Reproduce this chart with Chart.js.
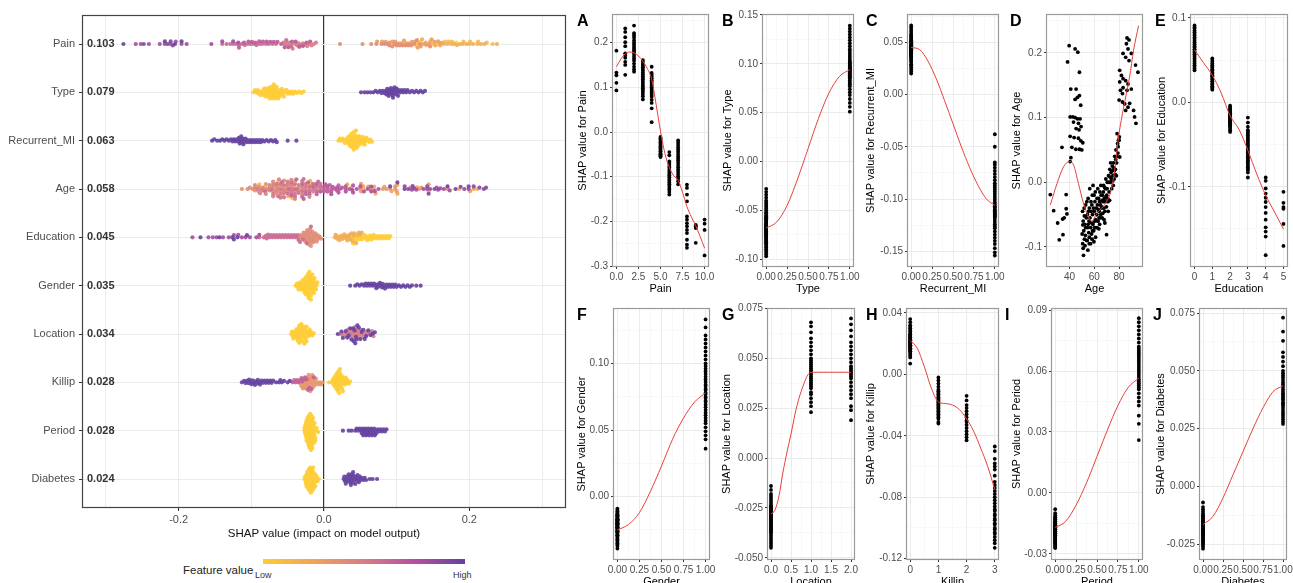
<!DOCTYPE html>
<html>
<head>
<meta charset="utf-8">
<title>SHAP summary and dependence plots</title>
<script src="https://cdn.jsdelivr.net/npm/chart.js@4.4.1/dist/chart.umd.min.js"></script>
<style>
  body { margin: 0; width: 1293px; height: 583px; overflow: hidden; background: #fff; position: relative; font-family: "Liberation Sans", Arial, sans-serif; }
  canvas { position: absolute; }
  .tag { position: absolute; font-size: 16px; line-height: 16px; font-weight: bold; color: #000; }
  .legend-title { position: absolute; left: 183px; top: 564px; font-size: 11.5px; line-height: 13px; color: #222; }
  .legend-bar { position: absolute; left: 263px; top: 559px; width: 202px; height: 5px; }
  .legend-end { position: absolute; top: 570px; font-size: 9px; line-height: 11px; color: #333; }
</style>
</head>
<body>
<div class="legend-title">Feature value</div>
<div class="legend-bar" id="legendBar"></div>
<div class="legend-end" style="left:255px">Low</div>
<div class="legend-end" style="left:453px">High</div>
<script>
// ---- data ----
const features = ['Pain', 'Type', 'Recurrent_MI', 'Age', 'Education', 'Gender', 'Location', 'Killip', 'Period', 'Diabetes'];
const meanAbs = ['0.103', '0.079', '0.063', '0.058', '0.045', '0.035', '0.034', '0.028', '0.028', '0.024'];

// SHAP values of Pain, one list per pain score 0..10
const painShap = [
  [0.182, 0.133, 0.127, 0.110, 0.093],
  [0.232, 0.224, 0.212, 0.201, 0.192, 0.176, 0.171, 0.166, 0.157, 0.150, 0.128],
  [0.238, 0.221, 0.216, 0.211, 0.205, 0.200, 0.196, 0.191, 0.187, 0.183, 0.179, 0.175, 0.170, 0.165, 0.160, 0.153, 0.146, 0.140, 0.135],
  [0.161, 0.157, 0.152, 0.148, 0.145, 0.141, 0.137, 0.133, 0.129, 0.125, 0.121, 0.118, 0.114, 0.110, 0.106, 0.102, 0.098, 0.094, 0.090, 0.085, 0.080, 0.073],
  [0.146, 0.132, 0.128, 0.124, 0.120, 0.116, 0.112, 0.108, 0.104, 0.100, 0.097, 0.094, 0.090, 0.087, 0.083, 0.079, 0.072, 0.065, 0.053, 0.022],
  [-0.011, -0.014, -0.017, -0.020, -0.023, -0.026, -0.029, -0.032, -0.035, -0.037, -0.040, -0.043, -0.045, -0.048, -0.050, -0.052, -0.054, -0.056],
  [-0.045, -0.052, -0.066, -0.071, -0.076, -0.080, -0.085, -0.089, -0.093, -0.097, -0.101, -0.105, -0.109, -0.113, -0.117, -0.121, -0.125, -0.129, -0.134, -0.140],
  [-0.019, -0.024, -0.029, -0.034, -0.039, -0.044, -0.049, -0.054, -0.059, -0.064, -0.069, -0.074, -0.079, -0.084, -0.089, -0.094, -0.099, -0.104, -0.110, -0.117],
  [-0.118, -0.125, -0.140, -0.155, -0.189, -0.196, -0.204, -0.211, -0.219, -0.226, -0.241, -0.252, -0.259],
  [-0.208, -0.211, -0.215, -0.248],
  [-0.196, -0.205, -0.219, -0.276]
];
const painCurveX = [0, 0.5, 1, 1.5, 2, 2.5, 3, 3.5, 4, 4.5, 5, 5.5, 6, 6.5, 7, 7.5, 8, 8.5, 9, 9.5, 10];
const painCurveY = [0.146, 0.163, 0.175, 0.179, 0.177, 0.170, 0.158, 0.142, 0.118, 0.062, 0.002, -0.048, -0.079, -0.098, -0.108, -0.135, -0.167, -0.190, -0.210, -0.234, -0.260];

const typeShap0 = [-0.097, -0.095, -0.093, -0.091, -0.090, -0.088, -0.087, -0.085, -0.084, -0.083, -0.082, -0.081, -0.080, -0.079, -0.078, -0.077, -0.076, -0.076, -0.075, -0.074, -0.074, -0.073, -0.072, -0.072, -0.071, -0.070, -0.070, -0.069, -0.069, -0.068, -0.068, -0.067, -0.066, -0.066, -0.065, -0.064, -0.064, -0.063, -0.062, -0.061, -0.060, -0.059, -0.058, -0.057, -0.056, -0.055, -0.053, -0.052, -0.050, -0.048, -0.046, -0.044, -0.042, -0.040, -0.037, -0.034, -0.031, -0.028];
const typeShap1 = [0.051, 0.056, 0.060, 0.064, 0.068, 0.071, 0.074, 0.077, 0.079, 0.081, 0.083, 0.085, 0.086, 0.087, 0.088, 0.089, 0.090, 0.091, 0.092, 0.093, 0.094, 0.095, 0.095, 0.096, 0.097, 0.098, 0.099, 0.100, 0.101, 0.102, 0.103, 0.105, 0.107, 0.109, 0.111, 0.113, 0.115, 0.118, 0.121, 0.124, 0.127, 0.130, 0.133, 0.136, 0.139];
const typeCurveX = [0, 0.125, 0.25, 0.375, 0.5, 0.625, 0.75, 0.875, 1];
const typeCurveY = [-0.068, -0.062, -0.045, -0.018, 0.013, 0.044, 0.070, 0.087, 0.094];

const recShap0 = [0.020, 0.022, 0.024, 0.026, 0.028, 0.029, 0.031, 0.032, 0.033, 0.034, 0.035, 0.036, 0.036, 0.037, 0.038, 0.038, 0.039, 0.039, 0.040, 0.040, 0.041, 0.041, 0.042, 0.042, 0.043, 0.043, 0.044, 0.044, 0.045, 0.045, 0.046, 0.047, 0.047, 0.048, 0.049, 0.050, 0.051, 0.052, 0.053, 0.054, 0.055, 0.056, 0.057, 0.058, 0.060, 0.062, 0.064, 0.066];
const recShap1 = [-0.154, -0.151, -0.147, -0.143, -0.140, -0.137, -0.134, -0.131, -0.128, -0.126, -0.124, -0.122, -0.120, -0.118, -0.117, -0.116, -0.115, -0.114, -0.113, -0.112, -0.111, -0.110, -0.108, -0.107, -0.105, -0.103, -0.101, -0.099, -0.097, -0.095, -0.093, -0.091, -0.089, -0.087, -0.085, -0.082, -0.079, -0.076, -0.073, -0.070, -0.067, -0.065, -0.050, -0.038];
const recCurveX = [0, 0.1, 0.2, 0.3, 0.4, 0.5, 0.6, 0.7, 0.8, 0.9, 1];
const recCurveY = [0.045, 0.043, 0.032, 0.015, -0.006, -0.028, -0.050, -0.070, -0.087, -0.100, -0.106];

// [age, SHAP value for age]
const agePairs = [
  [39.7, 0.211], [38.4, 0.186], [44.5, 0.206], [46.7, 0.201], [48.0, 0.170], [41.0, 0.144], [45.3, 0.144], [44.5, 0.128], [46.4, 0.131], [48.0, 0.134], [49.0, 0.119],
  [40.5, 0.101], [42.7, 0.101], [44.5, 0.100], [46.4, 0.098], [48.5, 0.098], [43.2, 0.093], [47.2, 0.091], [49.3, 0.086], [45.3, 0.083], [47.7, 0.081], [40.5, 0.071],
  [43.7, 0.069], [47.2, 0.068], [49.1, 0.064], [50.7, 0.061], [33.9, 0.054], [41.9, 0.054], [45.1, 0.051], [48.0, 0.051], [49.9, 0.050], [41.1, 0.038], [40.5, 0.032],
  [24.5, -0.019], [27.2, -0.044], [30.4, -0.063], [31.7, -0.089], [34.7, -0.081], [34.4, -0.057], [35.7, -0.055], [37.3, -0.041], [37.9, -0.049], [37.3, -0.019],
  [50.5, -0.045], [51.0, -0.060], [51.5, -0.075], [52.0, -0.088], [51.0, -0.102], [52.5, -0.098], [51.3, -0.113], [52.0, -0.052], [53.0, -0.035], [53.0, -0.070], [52.8, -0.082], [50.8, -0.066],
  [54.0, -0.030], [54.5, -0.050], [55.0, -0.065], [55.5, -0.078], [54.2, -0.090], [56.0, -0.040], [56.5, -0.055], [57.0, -0.070], [55.0, -0.025], [56.0, -0.085], [57.0, -0.095], [54.8, -0.105], [56.3, -0.010], [57.5, -0.045], [55.7, -0.060],
  [58.0, -0.035], [58.5, -0.050], [59.0, -0.062], [59.5, -0.075], [60.0, -0.045], [60.5, -0.030], [61.0, -0.058], [58.2, -0.088], [59.8, -0.020], [60.2, -0.070], [61.5, -0.040], [58.8, -0.065], [61.0, -0.085], [59.0, -0.005],
  [62.0, -0.050], [62.5, -0.035], [63.0, -0.060], [63.5, -0.025], [64.0, -0.045], [64.5, -0.015], [65.0, -0.035], [62.3, -0.070], [63.8, -0.055], [65.2, -0.050], [62.8, -0.010], [64.3, -0.065], [65.5, -0.020],
  [66.0, -0.040], [66.5, -0.020], [67.0, -0.030], [67.5, -0.005], [68.0, -0.025], [68.5, -0.045], [69.0, -0.010], [66.3, -0.055], [67.8, -0.040], [69.3, 0.005], [68.5, -0.063], [69.9, -0.081],
  [70.0, -0.020], [70.5, 0.000], [71.0, -0.030], [71.5, 0.010], [72.0, -0.015], [72.5, 0.020], [73.0, 0.000], [73.5, 0.015], [74.0, -0.010], [71.2, -0.045], [73.2, 0.030], [74.5, 0.025],
  [75.0, 0.010], [75.5, 0.030], [76.0, 0.005], [76.5, 0.040], [77.0, 0.020], [77.5, 0.050], [78.0, 0.030], [79.0, 0.045], [79.5, 0.065], [76.2, 0.018], [77.8, 0.010], [75.3, -0.005], [74.8, 0.002],
  [50.2, -0.080], [50.6, -0.095], [51.8, -0.040], [52.3, -0.065], [53.5, -0.055], [53.8, -0.090], [54.6, -0.070], [55.3, -0.045], [55.9, -0.095], [56.8, -0.062],
  [57.3, -0.030], [57.8, -0.080], [58.4, -0.020], [58.6, -0.075], [59.3, -0.040], [59.7, -0.092], [60.4, -0.060], [60.8, -0.015], [61.3, -0.070], [61.8, -0.050],
  [62.2, -0.025], [62.7, -0.060], [63.2, -0.042], [63.7, -0.072], [64.2, -0.030], [64.7, -0.055], [65.3, -0.005], [65.8, -0.038], [66.2, -0.028], [66.8, -0.048],
  [67.3, -0.015], [67.9, -0.058], [68.3, -0.008], [68.8, -0.030], [69.5, -0.022], [69.8, -0.038], [70.3, -0.010], [70.8, -0.025], [71.8, 0.000], [72.3, -0.028],
  [72.8, 0.008], [73.8, 0.005], [74.3, 0.018], [75.8, 0.022], [76.8, 0.012], [77.3, 0.035], [78.3, 0.040], [78.8, 0.060], [80.2, 0.070],
  [78.4, 0.075], [80.0, 0.065], [79.2, 0.055], [80.5, 0.039],
  [86.4, 0.223], [88.0, 0.220], [85.9, 0.214], [87.2, 0.206], [83.2, 0.199], [89.9, 0.199], [85.3, 0.193], [88.0, 0.188], [93.3, 0.181], [95.2, 0.170],
  [80.5, 0.173], [81.9, 0.165], [83.2, 0.160], [80.5, 0.155], [85.3, 0.157], [87.2, 0.152], [83.2, 0.146], [81.1, 0.142], [86.4, 0.142], [80.0, 0.127],
  [82.7, 0.124], [84.5, 0.121], [87.2, 0.116], [91.7, 0.111], [85.3, 0.111], [92.5, 0.101], [93.6, 0.091], [88.5, 0.122], [89.9, 0.144], [82.7, 0.137]
];
const ageCurveX = [24.5, 29.9, 35.2, 40, 43.2, 47.2, 51.2, 55.2, 58.4, 60.5, 64.5, 69.9, 73.3, 76.5, 79.2, 83.2, 88.5, 91.7, 95.7];
const ageCurveY = [-0.035, -0.002, 0.024, 0.032, 0.027, -0.002, -0.032, -0.053, -0.061, -0.053, -0.043, -0.030, -0.014, 0.019, 0.065, 0.111, 0.163, 0.204, 0.242];

const eduShap0 = [0.091, 0.089, 0.087, 0.085, 0.083, 0.081, 0.079, 0.077, 0.075, 0.073, 0.071, 0.069, 0.068, 0.066, 0.065, 0.063, 0.062, 0.060, 0.059, 0.057, 0.056, 0.054, 0.052, 0.050, 0.048, 0.046, 0.044, 0.042, 0.040, 0.038];
const eduShap1 = [0.052, 0.050, 0.048, 0.046, 0.044, 0.042, 0.041, 0.039, 0.038, 0.036, 0.035, 0.034, 0.032, 0.031, 0.030, 0.028, 0.027, 0.025, 0.024, 0.022, 0.021, 0.019, 0.018, 0.016, 0.015];
const eduShap2 = [-0.004, -0.006, -0.008, -0.009, -0.010, -0.011, -0.012, -0.013, -0.014, -0.015, -0.015, -0.016, -0.017, -0.017, -0.018, -0.018, -0.019, -0.019, -0.020, -0.020, -0.021, -0.021, -0.022, -0.022, -0.023, -0.024, -0.024, -0.025, -0.026, -0.027, -0.028, -0.029, -0.031, -0.033, -0.035];
const eduShap3 = [-0.018, -0.024, -0.029, -0.033, -0.035, -0.037, -0.039, -0.041, -0.043, -0.045, -0.047, -0.049, -0.051, -0.053, -0.055, -0.057, -0.059, -0.061, -0.063, -0.065, -0.067, -0.069, -0.071, -0.073, -0.075, -0.077, -0.079, -0.080, -0.083, -0.089];
const eduShap4 = [-0.089, -0.093, -0.102, -0.108, -0.113, -0.118, -0.124, -0.131, -0.139, -0.148, -0.153, -0.159, -0.181];
const eduShap5 = [-0.106, -0.119, -0.124, -0.126, -0.144, -0.170];
const eduCurveX = [0, 0.5, 1, 1.5, 2, 2.5, 3, 3.5, 4, 4.5, 5];
const eduCurveY = [0.062, 0.047, 0.032, 0.011, -0.016, -0.032, -0.057, -0.085, -0.110, -0.130, -0.150];

const genShap0 = [-0.009, -0.010, -0.011, -0.012, -0.013, -0.013, -0.014, -0.014, -0.015, -0.015, -0.016, -0.016, -0.017, -0.017, -0.017, -0.018, -0.018, -0.018, -0.019, -0.019, -0.019, -0.020, -0.020, -0.020, -0.021, -0.021, -0.021, -0.022, -0.022, -0.022, -0.023, -0.023, -0.023, -0.024, -0.024, -0.025, -0.025, -0.026, -0.026, -0.027, -0.027, -0.028, -0.029, -0.029, -0.030, -0.031, -0.032, -0.033, -0.034, -0.035, -0.036, -0.037, -0.039];
const genShap1 = [0.036, 0.043, 0.046, 0.049, 0.052, 0.055, 0.057, 0.059, 0.061, 0.063, 0.065, 0.067, 0.069, 0.071, 0.072, 0.074, 0.075, 0.077, 0.078, 0.080, 0.081, 0.083, 0.084, 0.086, 0.088, 0.090, 0.092, 0.094, 0.096, 0.098, 0.100, 0.103, 0.106, 0.109, 0.112, 0.115, 0.118, 0.121, 0.127, 0.133];
const genCurveX = [0, 0.125, 0.25, 0.375, 0.5, 0.625, 0.75, 0.875, 1];
const genCurveY = [-0.025, -0.021, -0.012, 0.004, 0.023, 0.043, 0.059, 0.071, 0.078];

const locShap0 = [-0.014, -0.016, -0.018, -0.019, -0.020, -0.021, -0.022, -0.023, -0.024, -0.024, -0.025, -0.025, -0.026, -0.026, -0.027, -0.027, -0.028, -0.028, -0.029, -0.029, -0.030, -0.030, -0.031, -0.031, -0.032, -0.032, -0.033, -0.033, -0.034, -0.034, -0.035, -0.035, -0.036, -0.036, -0.037, -0.037, -0.038, -0.039, -0.040, -0.041, -0.042, -0.043, -0.044, -0.045];
const locShap1 = [0.023, 0.026, 0.028, 0.030, 0.032, 0.033, 0.035, 0.036, 0.037, 0.038, 0.039, 0.040, 0.041, 0.042, 0.043, 0.044, 0.045, 0.046, 0.047, 0.048, 0.049, 0.050, 0.052, 0.054, 0.056, 0.058, 0.060, 0.063, 0.066, 0.068];
const locShap2 = [0.019, 0.024, 0.026, 0.030, 0.032, 0.034, 0.036, 0.038, 0.040, 0.041, 0.042, 0.043, 0.044, 0.045, 0.046, 0.048, 0.050, 0.052, 0.054, 0.056, 0.058, 0.061, 0.064, 0.067, 0.070];
const locCurveX = [0, 0.1, 0.2, 0.3, 0.4, 0.5, 0.6, 0.7, 0.8, 0.9, 1, 1.5, 2];
const locCurveY = [-0.028, -0.026, -0.019, -0.007, 0.003, 0.012, 0.022, 0.030, 0.036, 0.041, 0.043, 0.043, 0.043];

const kilShap0 = [0.007, 0.011, 0.012, 0.013, 0.014, 0.015, 0.015, 0.016, 0.016, 0.017, 0.017, 0.018, 0.018, 0.019, 0.019, 0.019, 0.020, 0.020, 0.020, 0.021, 0.021, 0.021, 0.022, 0.022, 0.022, 0.023, 0.023, 0.024, 0.024, 0.025, 0.025, 0.026, 0.026, 0.027, 0.028, 0.029, 0.030, 0.031, 0.032, 0.034, 0.036];
const kilShap1 = [-0.002, -0.004, -0.006, -0.008, -0.010, -0.011, -0.012, -0.013, -0.014, -0.015, -0.016, -0.016, -0.017, -0.018, -0.018, -0.019, -0.020, -0.020, -0.021, -0.022, -0.022, -0.023, -0.024, -0.025, -0.026, -0.027, -0.028, -0.029, -0.031, -0.032];
const kilShap2 = [-0.014, -0.017, -0.020, -0.022, -0.024, -0.026, -0.028, -0.030, -0.031, -0.033, -0.035, -0.037, -0.039, -0.041, -0.043];
const kilShap3 = [-0.047, -0.050, -0.055, -0.058, -0.060, -0.062, -0.066, -0.070, -0.072, -0.074, -0.076, -0.078, -0.080, -0.082, -0.084, -0.086, -0.088, -0.089, -0.091, -0.092, -0.094, -0.095, -0.097, -0.098, -0.100, -0.101, -0.103, -0.104, -0.106, -0.108, -0.110, -0.113];
const kilCurveX = [0, 0.25, 0.5, 0.75, 1, 1.25, 1.5, 1.75, 2, 2.25, 2.5, 2.75, 3];
const kilCurveY = [0.022, 0.017, 0.005, -0.009, -0.018, -0.019, -0.020, -0.023, -0.029, -0.037, -0.048, -0.060, -0.075];

const perShap0 = [-0.008, -0.010, -0.011, -0.012, -0.012, -0.013, -0.013, -0.014, -0.014, -0.014, -0.015, -0.015, -0.015, -0.016, -0.016, -0.016, -0.016, -0.017, -0.017, -0.017, -0.017, -0.018, -0.018, -0.018, -0.018, -0.019, -0.019, -0.019, -0.019, -0.020, -0.020, -0.020, -0.020, -0.021, -0.021, -0.021, -0.021, -0.022, -0.022, -0.022, -0.023, -0.023, -0.023, -0.024, -0.024, -0.024, -0.025, -0.025, -0.026, -0.026, -0.027, -0.027];
const perShap1 = [0.026, 0.034, 0.038, 0.043, 0.045, 0.047, 0.049, 0.051, 0.052, 0.053, 0.054, 0.055, 0.056, 0.057, 0.058, 0.059, 0.060, 0.061, 0.062, 0.063, 0.064, 0.065, 0.066, 0.067, 0.068, 0.069, 0.070, 0.071, 0.072, 0.074, 0.076, 0.078, 0.080, 0.082, 0.084, 0.086];
const perCurveX = [0, 0.125, 0.25, 0.375, 0.5, 0.625, 0.75, 0.875, 1];
const perCurveY = [-0.017, -0.014, -0.006, 0.005, 0.018, 0.031, 0.043, 0.052, 0.0565];

const diaShap0 = [-0.007, -0.009, -0.010, -0.011, -0.012, -0.012, -0.013, -0.013, -0.014, -0.014, -0.015, -0.015, -0.015, -0.016, -0.016, -0.016, -0.017, -0.017, -0.017, -0.018, -0.018, -0.018, -0.019, -0.019, -0.019, -0.020, -0.020, -0.020, -0.021, -0.021, -0.021, -0.022, -0.022, -0.023, -0.023, -0.024, -0.024, -0.025, -0.025, -0.026, -0.027];
const diaShap1 = [0.027, 0.028, 0.029, 0.030, 0.031, 0.032, 0.033, 0.034, 0.035, 0.036, 0.036, 0.037, 0.038, 0.038, 0.039, 0.040, 0.040, 0.041, 0.042, 0.043, 0.044, 0.045, 0.046, 0.047, 0.048, 0.049, 0.050, 0.052, 0.054, 0.056, 0.058, 0.063, 0.067, 0.073];
const diaCurveX = [0, 0.125, 0.25, 0.375, 0.5, 0.625, 0.75, 0.875, 1];
const diaCurveY = [-0.0165, -0.013, -0.005, 0.005, 0.015, 0.025, 0.034, 0.041, 0.0435];

const ramp = ['#FECC33', '#EFA45B', '#D77D87', '#B4509F', '#6441A0'];

// ---- helpers ----
Chart.defaults.font.family = '"Liberation Sans", Arial, sans-serif';
Chart.defaults.font.size = 11;
Chart.defaults.color = '#4D4D4D';

const byLevel = groups => groups.flatMap((g, lv) => g.map(s => ({ v: lv, s })));
const featPts = {
  Pain: byLevel(painShap),
  Type: byLevel([typeShap0, typeShap1]),
  Recurrent_MI: byLevel([recShap0, recShap1]),
  Age: agePairs.map(p => ({ v: p[0], s: p[1] })),
  Education: byLevel([eduShap0, eduShap1, eduShap2, eduShap3, eduShap4, eduShap5]),
  Gender: byLevel([genShap0, genShap1]),
  Location: byLevel([locShap0, locShap1, locShap2]),
  Killip: byLevel([kilShap0, kilShap1, kilShap2, kilShap3]),
  Period: byLevel([perShap0, perShap1]),
  Diabetes: byLevel([diaShap0, diaShap1])
};

const hex = h => [1, 3, 5].map(i => parseInt(h.slice(i, i + 2), 16));
function rampColor(t, alpha) {
  const k = Math.min(Math.max(t, 0), 1) * (ramp.length - 1);
  const i = Math.min(Math.floor(k), ramp.length - 2), f = k - i;
  const a = hex(ramp[i]), b = hex(ramp[i + 1]);
  const c = a.map((v, j) => Math.round(v + (b[j] - v) * f));
  return `rgba(${c[0]},${c[1]},${c[2]},${alpha})`;
}
document.getElementById('legendBar').style.background = `linear-gradient(to right, ${ramp.join(', ')})`;

const isMajor = (v, m) => Math.abs(v / m - Math.round(v / m)) < 1e-6;
const fmt = (v, d) => (Math.abs(v) < 1e-9 ? 0 : v).toFixed(d);

// beeswarm layout: offsets in px so dots do not pile up
function swarm(xs, d) {
  const order = xs.map((_, i) => i).sort((a, b) => xs[a] - xs[b]);
  const ys = new Array(xs.length), placed = [];
  for (const i of order) {
    const x = xs[i];
    const bands = placed.filter(p => x - p.x < d).map(p => {
      const h = Math.sqrt(d * d - (x - p.x) ** 2);
      return [p.y - h, p.y + h];
    });
    const cands = [0];
    bands.forEach(b => cands.push(b[0], b[1]));
    cands.sort((a, b) => Math.abs(a) - Math.abs(b));
    let y = 0;
    for (const c of cands) {
      if (bands.every(b => c <= b[0] + 1e-9 || c >= b[1] - 1e-9)) { y = c; break; }
    }
    ys[i] = y;
    placed.push({ x, y });
  }
  return ys;
}

function addCanvas(left, top, width, height) {
  const c = document.createElement('canvas');
  c.width = Math.round(width);
  c.height = Math.round(height);
  c.style.left = Math.round(left) + 'px';
  c.style.top = Math.round(top) + 'px';
  c.style.width = c.width + 'px';
  c.style.height = c.height + 'px';
  document.body.appendChild(c);
  return c;
}

const frame = {
  id: 'frame',
  afterDatasetsDraw(chart, args, opts) {
    const a = chart.chartArea, ctx = chart.ctx;
    ctx.save();
    ctx.strokeStyle = opts.color;
    ctx.lineWidth = opts.width;
    ctx.strokeRect(a.left + 0.5, a.top + 0.5, a.right - a.left - 1, a.bottom - a.top - 1);
    ctx.restore();
  }
};

const rowValues = {
  id: 'rowValues',
  afterDatasetsDraw(chart) {
    const { ctx, chartArea: a } = chart, y = chart.scales.y;
    ctx.save();
    ctx.font = 'bold 11px "Liberation Sans", Arial, sans-serif';
    ctx.fillStyle = '#333';
    ctx.textBaseline = 'middle';
    ctx.textAlign = 'left';
    meanAbs.forEach((t, i) => ctx.fillText(t, a.left + 5, y.getPixelForValue(i + 1)));
    ctx.restore();
  }
};

// ---- summary (beeswarm) plot ----
const S = { left: 82, top: 15, right: 566, bottom: 508, width: 580, height: 545, xmin: -0.333, xmax: 0.333, ymin: 0.4, ymax: 10.6 };
const pxPerX = (S.right - S.left) / (S.xmax - S.xmin);
const pxPerRow = (S.bottom - S.top) / (S.ymax - S.ymin);

const swarmPts = [];
features.forEach((f, r) => {
  const pts = featPts[f];
  const vs = pts.map(p => p.v);
  const lo = Math.min(...vs), hi = Math.max(...vs);
  const offs = swarm(pts.map(p => p.s * pxPerX), 2.6);
  pts.forEach((p, i) => swarmPts.push({ x: p.s, y: r + 1 + offs[i] / pxPerRow, c: rampColor((p.v - lo) / (hi - lo), 0.9) }));
});

new Chart(addCanvas(0, 0, S.width, S.height), {
  type: 'scatter',
  data: { datasets: [{ data: swarmPts, pointRadius: 2.1, pointHoverRadius: 2.1, borderWidth: 0, backgroundColor: swarmPts.map(p => p.c) }] },
  options: {
    responsive: false, animation: false, events: [],
    layout: { padding: { top: S.top, right: S.width - S.right, left: 0, bottom: 0 } },
    plugins: { legend: { display: false }, tooltip: { enabled: false }, frame: { color: '#444', width: 1.2 } },
    scales: {
      x: {
        type: 'linear', min: S.xmin, max: S.xmax,
        afterFit: s => { s.height = S.height - S.bottom; },
        border: { display: false },
        grid: {
          color: c => Math.abs(c.tick.value) < 1e-9 ? '#333' : '#EBEBEB',
          lineWidth: c => Math.abs(c.tick.value) < 1e-9 ? 1.2 : 1,
          tickLength: 3,
          tickColor: c => isMajor(c.tick.value, 0.2) ? '#333' : 'rgba(0,0,0,0)'
        },
        ticks: { stepSize: 0.1, includeBounds: false, autoSkip: false, maxRotation: 0, minRotation: 0, padding: 2, callback: v => isMajor(v, 0.2) ? fmt(v, 1) : '' },
        title: { display: true, text: 'SHAP value (impact on model output)', color: '#111', font: { size: 11.5 }, padding: { top: 0, bottom: 4 } }
      },
      y: {
        type: 'linear', min: S.ymin, max: S.ymax, reverse: true,
        afterFit: s => { s.width = S.left; },
        afterBuildTicks: s => { s.ticks = features.map((f, i) => ({ value: i + 1 })); },
        border: { display: false },
        grid: { color: '#EBEBEB', tickLength: 3, tickColor: '#333' },
        ticks: { autoSkip: false, padding: 4, callback: v => features[v - 1] }
      }
    }
  },
  plugins: [frame, rowValues]
});

// ---- dependence plots ----
const panels = [
  { tag: 'A', tagX: 577, name: 'Pain', x0: 612, x1: 709, y0: 14, y1: 267, tx: 582.5, cx: painCurveX, cy: painCurveY, xr: [-0.5, 10.5], xs: [2.5, 1.25, 1], yr: [-0.302, 0.264], ys: [0.1, 0.05, 1] },
  { tag: 'B', tagX: 722, name: 'Type', x0: 762, x1: 854, y0: 14, y1: 267, tx: 727.5, cx: typeCurveX, cy: typeCurveY, xr: [-0.05, 1.05], xs: [0.25, 0.125, 2], yr: [-0.108, 0.151], ys: [0.05, 0.025, 2] },
  { tag: 'C', tagX: 866, name: 'Recurrent_MI', x0: 907, x1: 999, y0: 14, y1: 267, tx: 871, cx: recCurveX, cy: recCurveY, xr: [-0.05, 1.05], xs: [0.25, 0.125, 2], yr: [-0.165, 0.077], ys: [0.05, 0.025, 2] },
  { tag: 'D', tagX: 1010, name: 'Age', x0: 1046, x1: 1143, y0: 14, y1: 267, tx: 1016.5, cx: ageCurveX, cy: ageCurveY, xr: [21, 99.3], xs: [20, 10, 0], yr: [-0.131, 0.26], ys: [0.1, 0.05, 1] },
  { tag: 'E', tagX: 1155, name: 'Education', x0: 1190, x1: 1288, y0: 14, y1: 267, tx: 1161.5, cx: eduCurveX, cy: eduCurveY, xr: [-0.255, 5.255], xs: [1, 0.5, 0], yr: [-0.195, 0.1046], ys: [0.1, 0.05, 1] },
  { tag: 'F', tagX: 577, name: 'Gender', x0: 613, x1: 710, y0: 308, y1: 560, tx: 581.5, cx: genCurveX, cy: genCurveY, xr: [-0.05, 1.05], xs: [0.25, 0.125, 2], yr: [-0.0476, 0.1416], ys: [0.05, 0.025, 2] },
  { tag: 'G', tagX: 722, name: 'Location', x0: 767, x1: 855, y0: 308, y1: 560, tx: 727, cx: locCurveX, cy: locCurveY, xr: [-0.1, 2.1], xs: [0.5, 0.25, 1], yr: [-0.0511, 0.0752], ys: [0.025, 0.0125, 3] },
  { tag: 'H', tagX: 866, name: 'Killip', x0: 906, x1: 999, y0: 308, y1: 560, tx: 870.5, cx: kilCurveX, cy: kilCurveY, xr: [-0.15, 3.15], xs: [1, 0.5, 0], yr: [-0.1209, 0.0432], ys: [0.04, 0.02, 2] },
  { tag: 'I', tagX: 1005, name: 'Period', x0: 1051, x1: 1143, y0: 308, y1: 560, tx: 1016.5, cx: perCurveX, cy: perCurveY, xr: [-0.05, 1.05], xs: [0.25, 0.125, 2], yr: [-0.033, 0.091], ys: [0.03, 0.015, 2] },
  { tag: 'J', tagX: 1153, name: 'Diabetes', x0: 1199, x1: 1287, y0: 308, y1: 560, tx: 1160.5, cx: diaCurveX, cy: diaCurveY, xr: [-0.05, 1.05], xs: [0.25, 0.125, 2], yr: [-0.0319, 0.0772], ys: [0.025, 0.0125, 3] }
];

function axis(range, step, dir, title, size) {
  const [major, minor, dec] = step;
  return {
    type: 'linear', min: range[0], max: range[1],
    afterFit: s => { if (dir === 'x') s.height = size; else s.width = size; },
    border: { display: false },
    grid: {
      color: c => isMajor(c.tick.value, major) ? '#EBEBEB' : '#F5F5F5',
      lineWidth: c => isMajor(c.tick.value, major) ? 1 : 0.7,
      tickLength: 2,
      tickColor: c => isMajor(c.tick.value, major) ? '#333' : 'rgba(0,0,0,0)'
    },
    ticks: { stepSize: minor, includeBounds: false, autoSkip: false, maxRotation: 0, minRotation: 0, padding: 2, font: { size: 10 }, callback: v => isMajor(v, major) ? fmt(v, dec) : '' },
    title: { display: true, text: title, color: '#000', font: { size: 11 }, padding: 0 }
  };
}

panels.forEach(p => {
  const left = p.tx - 6.6, top = p.y0 - 8, right = p.x1 + 14, bottom = p.y1 + 28.6;
  const cv = addCanvas(left, top, right - left, bottom - top);
  const L = Math.round(left), T = Math.round(top);
  const pts = featPts[p.name];
  new Chart(cv, {
    type: 'scatter',
    data: {
      datasets: [
        { type: 'line', data: p.cx.map((x, i) => ({ x, y: p.cy[i] })), borderColor: '#E8403A', borderWidth: 1, pointRadius: 0, cubicInterpolationMode: 'monotone', fill: false },
        { data: pts.map(q => ({ x: q.v, y: q.s })), pointRadius: 1.9, pointHoverRadius: 1.9, backgroundColor: '#000', borderWidth: 0 }
      ]
    },
    options: {
      responsive: false, animation: false, events: [],
      layout: { padding: { top: p.y0 - T, right: cv.width - (p.x1 - L), left: 0, bottom: 0 } },
      plugins: { legend: { display: false }, tooltip: { enabled: false }, frame: { color: '#9A9A9A', width: 1.2 } },
      scales: {
        x: axis(p.xr, p.xs, 'x', p.name, cv.height - (p.y1 - T)),
        y: axis(p.yr, p.ys, 'y', 'SHAP value for ' + p.name, p.x0 - L)
      }
    },
    plugins: [frame]
  });
  const t = document.createElement('div');
  t.className = 'tag';
  t.textContent = p.tag;
  t.style.left = p.tagX + 'px';
  t.style.top = (p.y0 - 1) + 'px';
  document.body.appendChild(t);
});
</script>
</body>
</html>
